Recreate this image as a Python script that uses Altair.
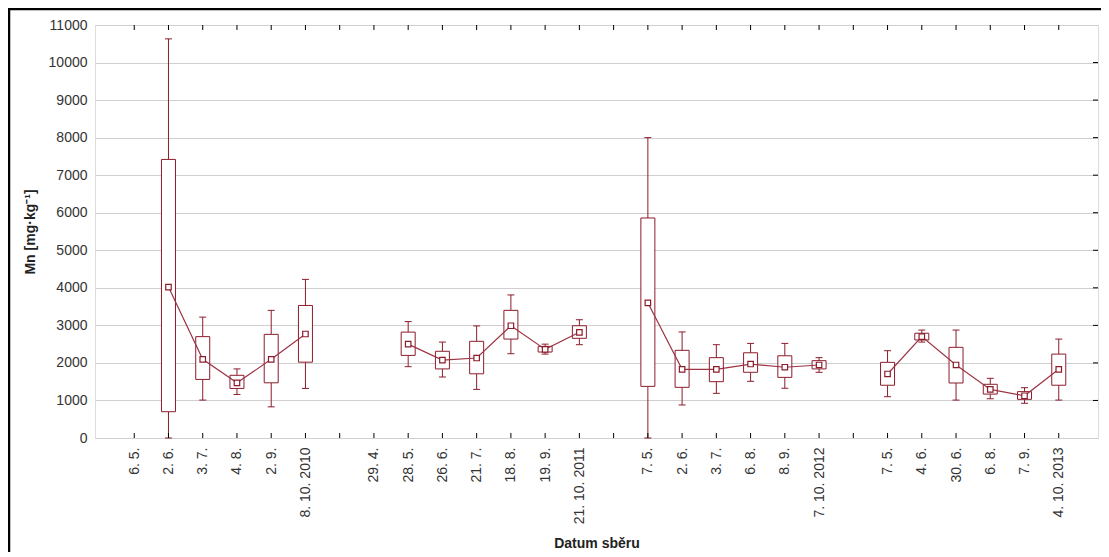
import json
import altair as alt
import pandas as pd

# ---- data ----
labels = ["6. 5.", "2. 6.", "3. 7.", "4. 8.", "2. 9.", "8. 10. 2010", "",
          "29. 4.", "28. 5.", "26. 6.", "21. 7.", "18. 8.", "19. 9.", "21. 10. 2011", "",
          "7. 5.", "2. 6.", "3. 7.", "6. 8.", "8. 9.", "7. 10. 2012", "",
          "7. 5.", "4. 6.", "30. 6.", "6. 8.", "7. 9.", "4. 10. 2013"]
positions = list(range(1, 29))
years = ["2010"] * 7 + ["2011"] * 8 + ["2012"] * 7 + ["2013"] * 6

w_low = [None, 0, 1010, 1160, 830, 1320, None,
         None, 1900, 1625, 1295, 2245, 2235, 2485, None,
         0, 880, 1190, 1510, 1325, 1750, None,
         1100, 2555, 1010, 1045, 925, 1010]
q1 = [None, 700, 1560, 1320, 1470, 2020, None,
      None, 2200, 1840, 1710, 2635, 2290, 2655, None,
      1375, 1350, 1500, 1750, 1615, 1840, None,
      1405, 2610, 1465, 1170, 1030, 1405]
median = [None, 4020, 2095, 1470, 2095, 2770, None,
          None, 2500, 2075, 2130, 2990, 2360, 2815, None,
          3600, 1830, 1830, 1970, 1885, 1945, None,
          1705, 2700, 1945, 1295, 1125, 1830]
q3 = [None, 7420, 2700, 1670, 2760, 3530, None,
      None, 2820, 2310, 2575, 3400, 2440, 2990, None,
      5860, 2335, 2140, 2270, 2190, 2060, None,
      2015, 2790, 2415, 1430, 1235, 2235]
w_high = [None, 10630, 3220, 1840, 3400, 4225, None,
          None, 3100, 2555, 2985, 3810, 2500, 3150, None,
          8000, 2825, 2485, 2520, 2520, 2140, None,
          2325, 2875, 2875, 1590, 1340, 2635]
y_ticks = list(range(0, 11001, 1000))

C = "#8b1c2c"
LINE_C = "#9c3445"
FONT = "Liberation Sans"
W, H = 1003, 413

rows = [dict(pos=p, year=y, lo=a, q1=b, med=c, q3=d, hi=e)
        for p, y, a, b, c, d, e in zip(positions, years, w_low, q1, median, q3, w_high)
        if c is not None]
df = pd.DataFrame(rows)
ticks_df = pd.DataFrame({"pos": positions})
grid_df = pd.DataFrame({"v": y_ticks[1:-1]})
one = pd.DataFrame({"k": [0]})

label_expr = json.dumps([""] + labels) + "[datum.value]"

xscale = alt.Scale(domain=[0, 29], nice=False, zero=False)
yscale = alt.Scale(domain=[0, 11000], nice=False)

x_enc = alt.X("pos:Q", scale=xscale, title="Datum sběru",
              axis=alt.Axis(values=positions, tickCount=60, labelExpr=label_expr,
                            labelAngle=270, ticks=False, domain=False, grid=False,
                            labelPadding=9, labelFontSize=14, labelColor="#333333",
                            labelFont=FONT, titleFont=FONT, titleFontSize=14,
                            titleFontWeight="bold", titleColor="#222222", titleY=112,
                            titleBaseline="bottom", labelOverlap=False,
                            labelBound=False, labelFlush=False))
y_axis = alt.Axis(values=y_ticks, tickCount=60, format="d", ticks=False, domain=False,
                  grid=True, gridColor="#cfcfcf", gridWidth=1, labelPadding=8,
                  labelFontSize=14, labelColor="#333333", labelFont=FONT, titleFont=FONT,
                  titleFontSize=14, titleFontWeight="bold", titleColor="#222222",
                  titleX=-65, titleY=206.5, titleAngle=270, titleAlign="center",
                  titleBaseline="middle", labelOverlap=False, labelBound=False,
                  labelFlush=False)

base = alt.Chart(df)

whisk_lo = base.mark_rule(color=C, strokeWidth=1).encode(
    x=x_enc, y=alt.Y("lo:Q", scale=yscale, axis=y_axis, title="Mn [mg·kg⁻¹]"),
    y2="q1:Q")
whisk_hi = base.mark_rule(color=C, strokeWidth=1).encode(
    x="pos:Q", y="q3:Q", y2="hi:Q")
cap_lo = base.mark_tick(orient="horizontal", size=7, thickness=1, color=C, opacity=1).encode(
    x="pos:Q", y="lo:Q")
cap_hi = base.mark_tick(orient="horizontal", size=7, thickness=1, color=C, opacity=1).encode(
    x="pos:Q", y="hi:Q")
boxes = base.mark_bar(size=14, fill="white", stroke=C, strokeWidth=1).encode(
    x="pos:Q", y="q1:Q", y2="q3:Q")
line = base.mark_line(color=LINE_C, strokeWidth=1.2).encode(
    x="pos:Q", y="med:Q", detail="year:N")
meds = base.mark_point(shape="square", filled=True, fill="white", stroke=C,
                       strokeWidth=1.2, size=30, opacity=1).encode(
    x="pos:Q", y="med:Q")

top_ticks = alt.Chart(ticks_df).mark_rule(color="#000", strokeWidth=1).encode(
    x="pos:Q", y=alt.value(0), y2=alt.value(5))
bot_ticks = alt.Chart(ticks_df).mark_rule(color="#000", strokeWidth=1).encode(
    x="pos:Q", y=alt.value(H - 5), y2=alt.value(H))
right_ticks = alt.Chart(grid_df).mark_rule(color="#000", strokeWidth=1).encode(
    y="v:Q", x=alt.value(W - 5), x2=alt.value(W))

frame_left = alt.Chart(one).mark_rule(color="#000", strokeWidth=2.5).encode(
    x=alt.value(-86), y=alt.value(-16), y2=alt.value(560))
frame_top = alt.Chart(one).mark_rule(color="#000", strokeWidth=2.5).encode(
    x=alt.value(-87), x2=alt.value(1020), y=alt.value(-16))

chart = alt.layer(
    whisk_lo, whisk_hi, cap_lo, cap_hi, boxes, line, meds,
    top_ticks, bot_ticks, right_ticks, frame_left, frame_top
).properties(
    width=W, height=H,
    autosize=alt.AutoSizeParams(type="none"),
    padding={"left": 87, "top": 17, "right": 3, "bottom": 114},
).configure_view(stroke="#000000", strokeWidth=1).configure_axis(
    labelOverlap=False
).configure(background="white")

chart.save("out.html", embed_options={"renderer": "svg", "actions": False})
